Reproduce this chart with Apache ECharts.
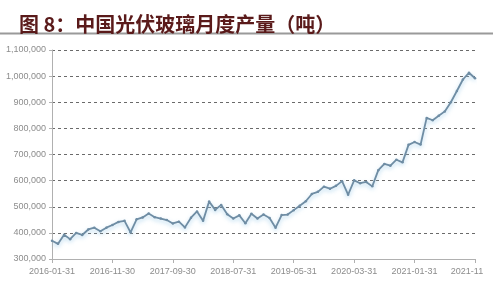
<!DOCTYPE html>
<html>
<head>
<meta charset="utf-8">
<script src="https://cdn.jsdelivr.net/npm/echarts@6/dist/echarts.min.js"></script>
<style>
html,body{margin:0;padding:0;background:#fff;}
#chart{width:496px;height:290px;}
</style>
</head>
<body>
<div id="chart"></div>
<script>
var titleText = '图 8：中国光伏玻璃月度产量（吨）';

var months = [
  '2016-01-31','2016-02-29','2016-03-31','2016-04-30','2016-05-31','2016-06-30','2016-07-31','2016-08-31','2016-09-30','2016-10-31','2016-11-30','2016-12-31',
  '2017-01-31','2017-02-28','2017-03-31','2017-04-30','2017-05-31','2017-06-30','2017-07-31','2017-08-31','2017-09-30','2017-10-31','2017-11-30','2017-12-31',
  '2018-01-31','2018-02-28','2018-03-31','2018-04-30','2018-05-31','2018-06-30','2018-07-31','2018-08-31','2018-09-30','2018-10-31','2018-11-30','2018-12-31',
  '2019-01-31','2019-02-28','2019-03-31','2019-04-30','2019-05-31','2019-06-30','2019-07-31','2019-08-31','2019-09-30','2019-10-31','2019-11-30','2019-12-31',
  '2020-01-31','2020-02-29','2020-03-31','2020-04-30','2020-05-31','2020-06-30','2020-07-31','2020-08-31','2020-09-30','2020-10-31','2020-11-30','2020-12-31',
  '2021-01-31','2021-02-28','2021-03-31','2021-04-30','2021-05-31','2021-06-30','2021-07-31','2021-08-31','2021-09-30','2021-10-31','2021-11'
];

var output = [
  370000,358000,393000,376000,400000,392000,413000,420000,406000,420000,430000,442000,
  446000,402000,452000,459000,474000,460000,455000,449000,436000,443000,421000,458000,
  482000,446000,520000,488000,507000,471000,455000,467000,437000,473000,455000,470000,
  457000,420000,468000,470000,487000,504000,521000,549000,557000,577000,569000,580000,
  598000,546000,601000,590000,595000,578000,640000,664000,657000,680000,670000,737000,
  748000,738000,840000,831000,848000,865000,900000,943000,987000,1013000,992000
];

var yMin = 300000, yMax = 1100000, yStep = 100000;

var labelFont = "'Liberation Sans', sans-serif";
var labelColor = '#8c8c8c';

var chart = echarts.init(document.getElementById('chart'), null, {renderer: 'canvas'});
chart.setOption({
  backgroundColor: '#fff',
  animation: false,
  title: {
    text: titleText,
    left: 14,
    top: 9,
    textStyle: {
      color: '#5a1a1a',
      fontSize: 20,
      fontWeight: 'bold',
      fontFamily: "'Noto Sans CJK SC', sans-serif"
    }
  },
  graphic: [{
    type: 'line',
    shape: {x1: 0, y1: 33.5, x2: 493, y2: 33.5},
    style: {stroke: '#9a9a9a', lineWidth: 2}
  }],
  grid: {left: 52, right: 21, top: 50, bottom: 31, containLabel: false},
  xAxis: {
    type: 'category',
    data: months,
    boundaryGap: false,
    axisLine: {show: true, lineStyle: {color: '#b0b0b0', width: 1}},
    axisTick: {show: true, interval: 9, length: 4, lineStyle: {color: '#b0b0b0'}},
    axisLabel: {
      interval: 9,
      color: labelColor,
      fontSize: 9,
      fontFamily: labelFont,
      margin: 8,
      formatter: function (v, i) {
        if (i === months.length - 1) { return '{last|' + v + '}'; }
        return v;
      },
      rich: {
        last: {color: labelColor, fontSize: 9, fontFamily: labelFont, padding: [0, 16, 0, 0]}
      }
    },
    splitLine: {show: false}
  },
  yAxis: {
    type: 'value',
    min: yMin,
    max: yMax,
    interval: yStep,
    axisLine: {show: true, lineStyle: {color: '#b0b0b0', width: 1}},
    axisTick: {show: true, length: 3, lineStyle: {color: '#b0b0b0'}},
    axisLabel: {
      color: labelColor,
      fontSize: 9,
      fontFamily: labelFont,
      margin: 6,
      formatter: function (v) { return v.toLocaleString('en-US'); }
    },
    splitLine: {show: true, lineStyle: {color: '#6a6a6a', type: [3, 3], width: 1}}
  },
  series: [{
    type: 'line',
    data: output,
    symbol: 'circle',
    symbolSize: 2.5,
    showSymbol: true,
    itemStyle: {color: '#6f8da4'},
    lineStyle: {
      color: '#6f8da4',
      width: 1.8,
      shadowColor: 'rgba(140,195,230,0.7)',
      shadowBlur: 4,
      shadowOffsetY: 2
    }
  }]
});
</script>
</body>
</html>
